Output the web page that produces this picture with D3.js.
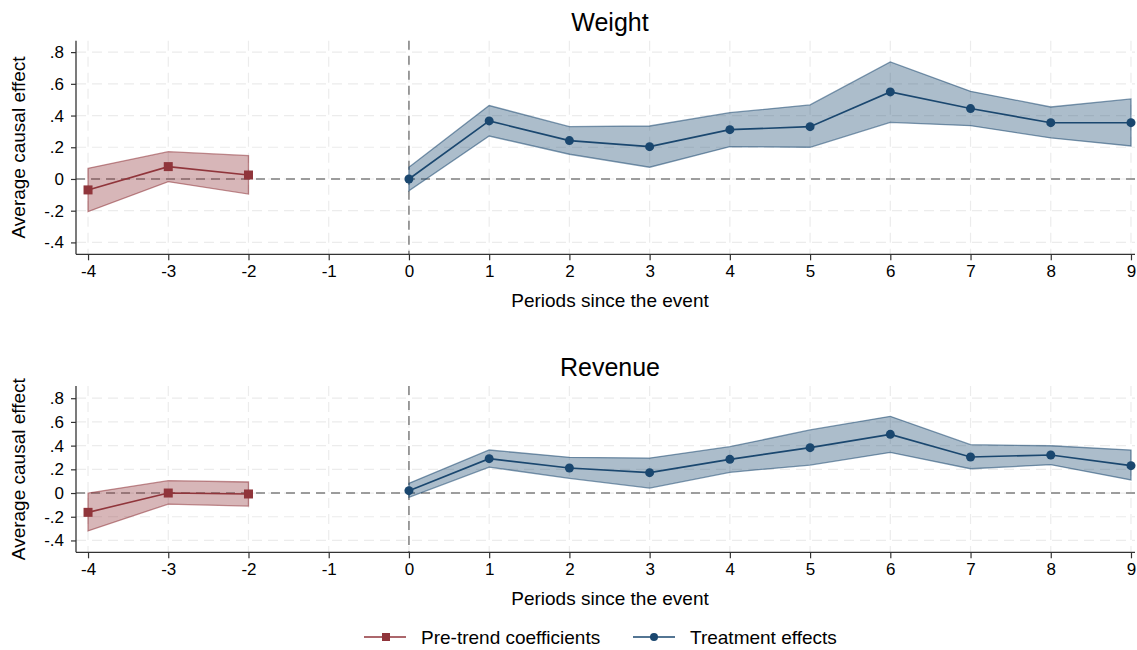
<!DOCTYPE html>
<html>
<head>
<meta charset="utf-8">
<script src="https://cdn.jsdelivr.net/npm/d3@7"></script>
<style>
  body { margin: 0; background: #fff; }
  text { font-family: "Liberation Sans", Arial, sans-serif; fill: #000; }
</style>
</head>
<body>
<div id="chart"></div>
<script>
var width = 1137;
var height = 650;

// periods
var prePeriods = [-4, -3, -2];
var postPeriods = [0, 1, 2, 3, 4, 5, 6, 7, 8, 9];
var xTicks = [-4, -3, -2, -1, 0, 1, 2, 3, 4, 5, 6, 7, 8, 9];
var yTicks = [-0.4, -0.2, 0, 0.2, 0.4, 0.6, 0.8];

// Weight
var weightPre = [-0.069, 0.078, 0.025];
var weightPreLo = [-0.206, -0.017, -0.095];
var weightPreHi = [0.067, 0.172, 0.147];
var weightPost = [0.0, 0.366, 0.242, 0.204, 0.311, 0.330, 0.549, 0.444, 0.355, 0.355];
var weightPostLo = [-0.074, 0.271, 0.156, 0.074, 0.204, 0.200, 0.357, 0.336, 0.259, 0.208];
var weightPostHi = [0.074, 0.463, 0.330, 0.334, 0.418, 0.467, 0.738, 0.553, 0.454, 0.505];

// Revenue
var revenuePre = [-0.163, 0.0, -0.008];
var revenuePreLo = [-0.320, -0.093, -0.110];
var revenuePreHi = [0.0, 0.104, 0.093];
var revenuePost = [0.020, 0.290, 0.211, 0.172, 0.284, 0.383, 0.495, 0.304, 0.321, 0.231];
var revenuePostLo = [-0.036, 0.219, 0.124, 0.042, 0.175, 0.236, 0.343, 0.205, 0.239, 0.110];
var revenuePostHi = [0.082, 0.363, 0.301, 0.295, 0.391, 0.532, 0.647, 0.408, 0.399, 0.363];

var red = "#90353b";
var blue = "#1a476f";
var fontFam = "Liberation Sans, Arial, sans-serif";

var svg = d3.select("#chart").append("svg")
  .attr("width", width)
  .attr("height", height);

var x = d3.scaleLinear()
  .domain([-4.15, 9.05])
  .range([76, 1135]);

// stata-like labels: .8, -.2, 0
function fmt(v) {
  if (Math.abs(v) < 1e-9) return "0";
  var s = Math.abs(v).toFixed(1).replace(/^0/, "");
  return (v < 0 ? "-" : "") + s;
}

function rows(periods, est, lo, hi) {
  return periods.map(function(p, i) {
    return {p: p, est: est[i], lo: lo[i], hi: hi[i]};
  });
}

function drawPanel(title, top, bottom, ydom, pre, post) {
  var y = d3.scaleLinear().domain(ydom).range([bottom, top]);
  var g = svg.append("g");

  // grid
  g.selectAll(".hgrid").data(yTicks).enter().append("line")
    .attr("x1", x.range()[0]).attr("x2", x.range()[1])
    .attr("y1", function(d) { return y(d); }).attr("y2", function(d) { return y(d); })
    .attr("stroke", "#ececec").attr("stroke-width", 1.2)
    .attr("stroke-dasharray", "10,6");
  g.selectAll(".vgrid").data(xTicks).enter().append("line")
    .attr("x1", function(d) { return x(d); }).attr("x2", function(d) { return x(d); })
    .attr("y1", top).attr("y2", bottom)
    .attr("stroke", "#ececec").attr("stroke-width", 1.2)
    .attr("stroke-dasharray", "10,6");

  // reference lines
  g.append("line")
    .attr("x1", x.range()[0]).attr("x2", x.range()[1])
    .attr("y1", y(0)).attr("y2", y(0))
    .attr("stroke", "#7f7f7f").attr("stroke-width", 1.5)
    .attr("stroke-dasharray", "9,6");
  g.append("line")
    .attr("x1", x(0)).attr("x2", x(0))
    .attr("y1", top).attr("y2", bottom)
    .attr("stroke", "#7f7f7f").attr("stroke-width", 1.5)
    .attr("stroke-dasharray", "9,6");

  var area = d3.area()
    .x(function(d) { return x(d.p); })
    .y0(function(d) { return y(d.lo); })
    .y1(function(d) { return y(d.hi); });
  var line = d3.line()
    .x(function(d) { return x(d.p); })
    .y(function(d) { return y(d.est); });

  [[pre, red], [post, blue]].forEach(function(s) {
    g.append("path").datum(s[0])
      .attr("d", area)
      .attr("fill", s[1]).attr("fill-opacity", 0.36)
      .attr("stroke", s[1]).attr("stroke-opacity", 0.55).attr("stroke-width", 1.3);
    g.append("path").datum(s[0])
      .attr("d", line)
      .attr("fill", "none").attr("stroke", s[1]).attr("stroke-width", 1.6);
  });

  g.selectAll(".sq").data(pre).enter().append("rect")
    .attr("x", function(d) { return x(d.p) - 4.5; })
    .attr("y", function(d) { return y(d.est) - 4.5; })
    .attr("width", 9).attr("height", 9)
    .attr("fill", red);
  g.selectAll(".dot").data(post).enter().append("circle")
    .attr("cx", function(d) { return x(d.p); })
    .attr("cy", function(d) { return y(d.est); })
    .attr("r", 4.5)
    .attr("fill", blue);

  // axes
  var yAxis = d3.axisLeft(y).tickValues(yTicks).tickSize(5).tickPadding(7).tickFormat(fmt);
  var ya = g.append("g").attr("transform", "translate(" + x.range()[0] + ",0)").call(yAxis);
  ya.select(".domain").attr("d", "M0," + top + "V" + bottom).attr("stroke", "#333").attr("stroke-width", 1.3);

  var xAxis = d3.axisBottom(x).tickValues(xTicks).tickSize(6).tickPadding(5)
    .tickFormat(function(d) { return String(d); });
  var xa = g.append("g").attr("transform", "translate(0," + bottom + ")").call(xAxis);
  xa.select(".domain").attr("d", "M" + x.range()[0] + ",0H" + x.range()[1]).attr("stroke", "#333").attr("stroke-width", 1.3);

  [ya, xa].forEach(function(a) {
    a.attr("font-size", null).attr("font-family", null);
    a.selectAll(".tick line").attr("stroke", "#333").attr("stroke-width", 1.2);
    a.selectAll(".tick text").style("font-size", "17px")
      .style("font-family", fontFam).attr("fill", "#000");
  });

  g.append("text")
    .attr("x", 610).attr("y", top - 10)
    .attr("text-anchor", "middle")
    .style("font-size", "25px")
    .text(title);

  g.append("text")
    .attr("x", 610).attr("y", bottom + 53)
    .attr("text-anchor", "middle")
    .style("font-size", "19px")
    .text("Periods since the event");

  g.append("text")
    .attr("transform", "translate(25," + ((top + bottom) / 2) + ") rotate(-90)")
    .attr("text-anchor", "middle")
    .style("font-size", "19px")
    .text("Average causal effect");
}

drawPanel("Weight", 40.7, 254.3, [-0.475, 0.872],
  rows(prePeriods, weightPre, weightPreLo, weightPreHi),
  rows(postPeriods, weightPost, weightPostLo, weightPostHi));

drawPanel("Revenue", 386, 552.3, [-0.5, 0.903],
  rows(prePeriods, revenuePre, revenuePreLo, revenuePreHi),
  rows(postPeriods, revenuePost, revenuePostLo, revenuePostHi));

// legend
var legend = svg.append("g");
var items = [
  {label: "Pre-trend coefficients", color: red, shape: "square", x0: 364},
  {label: "Treatment effects", color: blue, shape: "circle", x0: 633}
];
items.forEach(function(it) {
  var ly = 637;
  legend.append("line")
    .attr("x1", it.x0).attr("x2", it.x0 + 42)
    .attr("y1", ly).attr("y2", ly)
    .attr("stroke", it.color).attr("stroke-width", 1.6);
  if (it.shape === "square") {
    legend.append("rect")
      .attr("x", it.x0 + 22 - 4).attr("y", ly - 4)
      .attr("width", 8).attr("height", 8).attr("fill", it.color);
  } else {
    legend.append("circle")
      .attr("cx", it.x0 + 21).attr("cy", ly).attr("r", 4).attr("fill", it.color);
  }
  legend.append("text")
    .attr("x", it.x0 + 57).attr("y", ly + 7)
    .style("font-size", "19px")
    .text(it.label);
});
</script>
</body>
</html>
